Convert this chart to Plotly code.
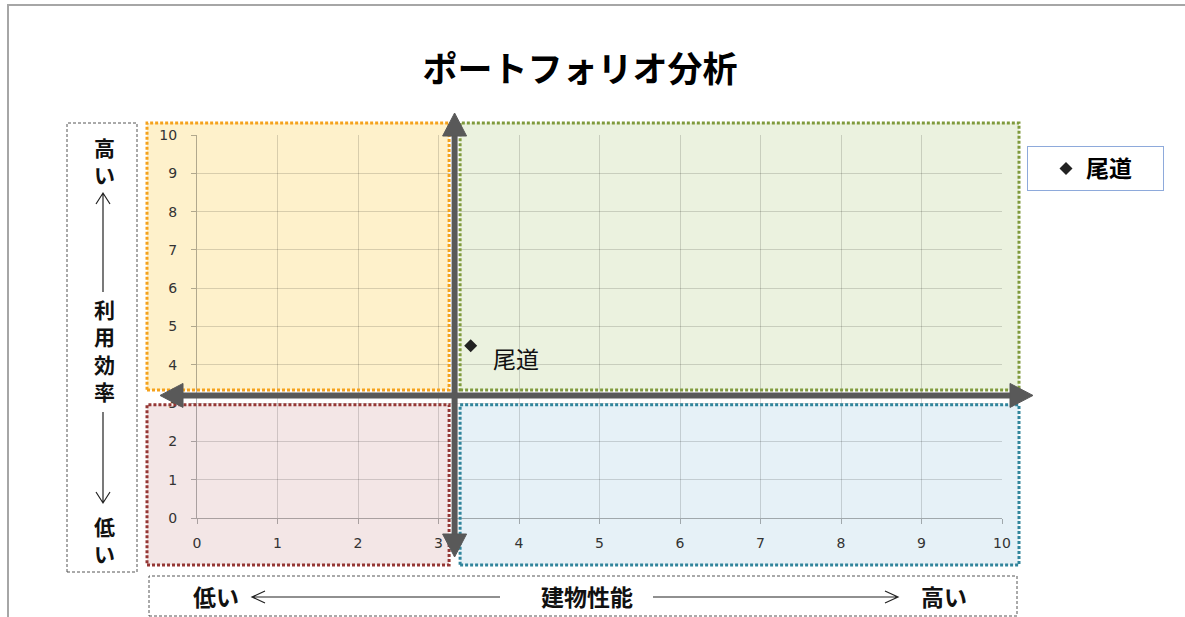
import plotly.graph_objects as go

# ---- data -------------------------------------------------------------
names = ["尾道"]
building_perf = [3.4]   # 建物性能 (x)
usage_eff = [4.5]       # 利用効率 (y)

x_tick_vals = [0, 1, 2, 3, 4, 5, 6, 7, 8, 9, 10]
y_tick_vals = [0, 1, 2, 3, 4, 5, 6, 7, 8, 9, 10]

# quadrant divider position (data units)
cross_x = [3.2]
cross_y = [3.2]

# ---- geometry ---------------------------------------------------------
FIG_W, FIG_H = 1185, 617
M_L, M_R, M_T, M_B = 197, 183, 135, 99
PW = FIG_W - M_L - M_R
PH = FIG_H - M_T - M_B
X_RANGE = [0, 10]
Y_RANGE = [0, 10]

JP = "Noto Sans CJK JP"


def px_x(px):
    """page pixel -> paper x"""
    return (px - M_L) / PW


def px_y(py):
    """page pixel -> paper y"""
    return (M_T + PH - py) / PH


def dx(v):
    return (v - X_RANGE[0]) / (X_RANGE[1] - X_RANGE[0])


def dy(v):
    return (v - Y_RANGE[0]) / (Y_RANGE[1] - Y_RANGE[0])


cx = dx(cross_x[0])
cy = dy(cross_y[0])
gap_x = 5.5 / PW
gap_y = 5.5 / PH

# outer extent of the quadrant boxes (domain fraction)
q_left = -50 / PW
q_right = 1 + 17 / PW
q_top = 1 + 12 / PH
q_bottom = -47 / PH

quadrants = [
    # (x0, x1, y0, y1, fill, border)
    (q_left, cx - gap_x, cy + gap_y, q_top, "#fef1cb", "#f5a21c"),
    (cx + gap_x, q_right, cy + gap_y, q_top, "#ebf2df", "#7f9a3c"),
    (q_left, cx - gap_x, q_bottom, cy - gap_y - 0.01, "#f3e6e6", "#953735"),
    (cx + gap_x, q_right, q_bottom, cy - gap_y - 0.01, "#e6f1f7", "#31859c"),
]

shapes = []
for x0, x1, y0, y1, fill, border in quadrants:
    shapes.append(dict(type="rect", xref="x domain", yref="y domain",
                       x0=x0, x1=x1, y0=y0, y1=y1, layer="below",
                       fillcolor=fill, line=dict(width=0)))
for x0, x1, y0, y1, fill, border in quadrants:
    shapes.append(dict(type="rect", xref="x domain", yref="y domain",
                       x0=x0, x1=x1, y0=y0, y1=y1, layer="above",
                       fillcolor="rgba(0,0,0,0)",
                       line=dict(color=border, width=3, dash="3px,2px")))

# crosshair arrows
ARROW = "#595959"
head_len, head_half = 23, 12
v_top = 1 + 22 / PH
v_bot = -39 / PH
h_left = -37 / PW
h_right = 1 + 31 / PW

shapes.append(dict(type="line", xref="x domain", yref="y domain",
                   x0=cx, x1=cx, y0=v_bot + head_len / PH * 0.5,
                   y1=v_top - head_len / PH * 0.5, layer="above",
                   line=dict(color=ARROW, width=6)))
shapes.append(dict(type="line", xref="x domain", yref="y domain",
                   x0=h_left + head_len / PW * 0.5,
                   x1=h_right - head_len / PW * 0.5, y0=cy, y1=cy,
                   layer="above", line=dict(color=ARROW, width=6)))


def tri(tip_x, tip_y, bx1, by1, bx2, by2):
    return f"M {tip_x},{tip_y} L {bx1},{by1} L {bx2},{by2} Z"


hx, hy = head_half / PW, head_half / PH
lx, ly = head_len / PW, head_len / PH
heads = [
    tri(cx, v_top, cx - hx, v_top - ly, cx + hx, v_top - ly),
    tri(cx, v_bot, cx - hx, v_bot + ly, cx + hx, v_bot + ly),
    tri(h_left, cy, h_left + lx, cy + hy, h_left + lx, cy - hy),
    tri(h_right, cy, h_right - lx, cy + hy, h_right - lx, cy - hy),
]
for p in heads:
    shapes.append(dict(type="path", xref="x domain", yref="y domain",
                       path=p, layer="above", fillcolor=ARROW,
                       line=dict(color=ARROW, width=1)))

# label boxes (dashed)
LABEL_LINE = dict(color="#555555", width=1, dash="3px,2px")
shapes.append(dict(type="rect", xref="paper", yref="paper",
                   x0=px_x(67), x1=px_x(137), y0=px_y(572), y1=px_y(123),
                   line=LABEL_LINE, layer="above"))
shapes.append(dict(type="rect", xref="paper", yref="paper",
                   x0=px_x(149), x1=px_x(1017), y0=px_y(616), y1=px_y(576),
                   line=LABEL_LINE, layer="above"))

# thin open-headed arrows inside the label boxes
THIN = dict(color="#222222", width=1.2)


def thin_arrow(x0, y0, x1, y1):
    # (x1, y1) is the tip; coordinates in page pixels
    if x0 == x1:
        s = 1 if y1 > y0 else -1
        p = (f"M {px_x(x0)},{px_y(y0)} L {px_x(x1)},{px_y(y1)} "
             f"M {px_x(x1 - 7)},{px_y(y1 - s * 11)} L {px_x(x1)},{px_y(y1)} "
             f"L {px_x(x1 + 7)},{px_y(y1 - s * 11)}")
    else:
        s = 1 if x1 > x0 else -1
        p = (f"M {px_x(x0)},{px_y(y0)} L {px_x(x1)},{px_y(y1)} "
             f"M {px_x(x1 - s * 13)},{px_y(y1 - 6)} L {px_x(x1)},{px_y(y1)} "
             f"L {px_x(x1 - s * 13)},{px_y(y1 + 6)}")
    return dict(type="path", xref="paper", yref="paper", path=p,
                layer="above", line=THIN)


shapes.append(thin_arrow(103, 292, 103, 193))
shapes.append(thin_arrow(103, 412, 103, 503))
shapes.append(thin_arrow(500, 597, 252, 597))
shapes.append(thin_arrow(653, 597, 898, 597))

# outer frame
shapes.append(dict(type="rect", xref="paper", yref="paper",
                   x0=px_x(8), x1=px_x(1200), y0=px_y(640), y1=px_y(5),
                   line=dict(color="#a6a6a6", width=2), layer="below"))

# ---- text ---------------------------------------------------------------
annotations = []


def label(text, px, py, size=23):
    annotations.append(dict(text=f"<b>{text}</b>", xref="paper", yref="paper",
                            x=px_x(px), y=px_y(py), showarrow=False,
                            xanchor="center", yanchor="middle", borderpad=0,
                            font=dict(family=JP, size=size,
                                      color="#111111")))


# vertical axis caption, written top to bottom
label("高<br>い", 104, 160, size=21)
label("利<br>用<br>効<br>率", 104, 350, size=21)
label("低<br>い", 104, 539, size=21)

label("低い", 216, 596)
label("建物性能", 587, 596)
label("高い", 944, 596)

# data labels
for n, xv, yv in zip(names, building_perf, usage_eff):
    annotations.append(dict(text=n, x=xv, y=yv, xref="x", yref="y",
                            showarrow=False, xanchor="left", yanchor="middle",
                            xshift=20, yshift=-12,
                            font=dict(family=JP, size=23, color="#111111")))

# ---- figure ---------------------------------------------------------------
fig = go.Figure()
for n, xv, yv in zip(names, building_perf, usage_eff):
    fig.add_trace(go.Scatter(
        x=[xv], y=[yv], name=f"<b>{n}</b>", mode="markers",
        marker=dict(symbol="diamond", size=10, color="#222222"),
    ))

axis_common = dict(
    showgrid=True, gridcolor="rgba(0,0,0,0.15)", gridwidth=1,
    zeroline=False, showline=True, linecolor="rgba(0,0,0,0.3)", linewidth=1,
    ticks="outside", ticklen=5, tickcolor="rgba(0,0,0,0.3)",
    tickfont=dict(family="DejaVu Sans", size=14, color="#333333"),
    fixedrange=True,
)

fig.update_layout(
    width=FIG_W, height=FIG_H,
    margin=dict(l=M_L, r=M_R, t=M_T, b=M_B),
    paper_bgcolor="white", plot_bgcolor="rgba(0,0,0,0)",
    title=dict(text="<b>ポートフォリオ分析</b>", x=580 / FIG_W,
               y=1 - 70 / FIG_H, xanchor="center", yanchor="middle",
               font=dict(family=JP, size=35, color="#000000")),
    xaxis=dict(range=X_RANGE, tickvals=x_tick_vals, ticklabelstandoff=7,
               **axis_common),
    yaxis=dict(range=Y_RANGE, tickvals=y_tick_vals, ticklabelstandoff=11,
               **axis_common),
    showlegend=True,
    legend=dict(x=px_x(1027), y=px_y(146), xanchor="left", yanchor="top",
                orientation="h", entrywidth=72, entrywidthmode="pixels",
                bgcolor="white", bordercolor="#8eaadb", borderwidth=1,
                font=dict(family=JP, size=23, color="#000000"),
                indentation=18),
    shapes=shapes,
    annotations=annotations,
)

fig.write_html("out.html")
